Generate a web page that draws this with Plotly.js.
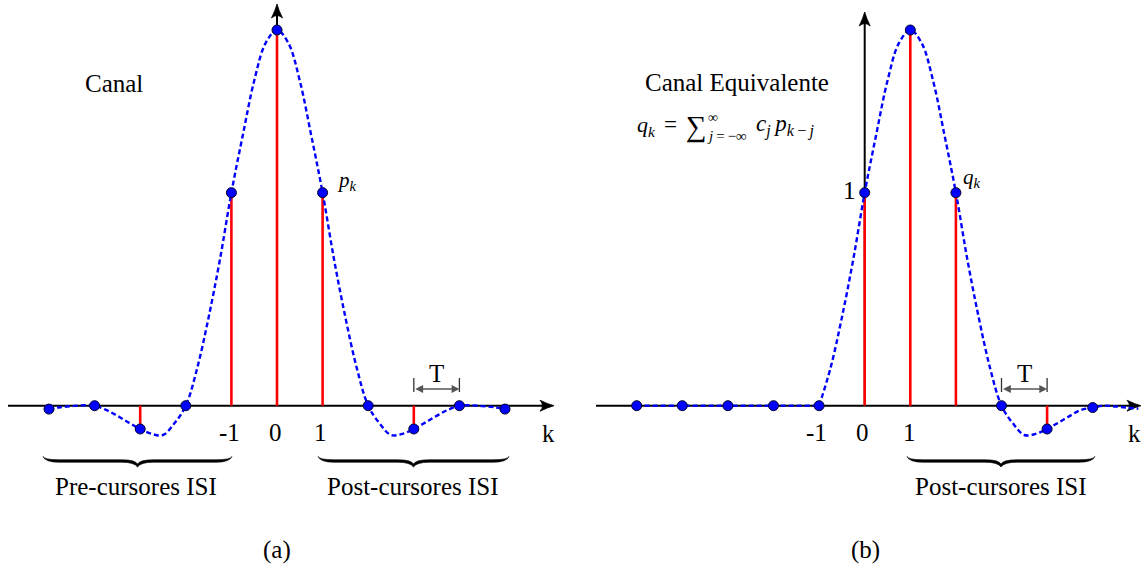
<!DOCTYPE html>
<html>
<head>
<meta charset="utf-8">
<script src="https://cdn.plot.ly/plotly-3.0.1.min.js"></script>
<style>
  html, body { margin: 0; padding: 0; background: #ffffff; }
  #chart { width: 1146px; height: 575px; }
</style>
</head>
<body>
<div id="chart"></div>
<script>
// ---- Sample indices and pulse values ----
// (a) channel p_k
const kA = [-5, -4, -3, -2, -1, 0, 1, 2, 3, 4, 5];
const pA = [-0.009, 0, -0.062, 0, 0.567, 1, 0.567, 0, -0.062, 0, -0.009];
// continuous pulse behind the samples of (a)
const curveAK = [-5, -4.75, -4.5, -4.25, -4, -3.75, -3.5, -3.25, -3, -2.75, -2.5, -2.25, -2,
                 -1.75, -1.5, -1.25, -1, -0.75, -0.5, -0.25, 0,
                 0.25, 0.5, 0.75, 1, 1.25, 1.5, 1.75, 2,
                 2.25, 2.5, 2.75, 3, 3.25, 3.5, 3.75, 4, 4.25, 4.5, 4.75, 5];
const curveAV = [-0.009, -0.004, -0.001, 0.001, 0, -0.011, -0.027, -0.045, -0.062, -0.075, -0.078, -0.047, 0,
                 0.10, 0.235, 0.39, 0.567, 0.72, 0.865, 0.965, 1,
                 0.965, 0.865, 0.72, 0.567, 0.39, 0.235, 0.10, 0,
                 -0.047, -0.078, -0.075, -0.062, -0.045, -0.027, -0.011, 0, 0.001, -0.001, -0.004, -0.009];

// (b) equivalent channel q_k
const kB = [-5, -4, -3, -2, -1, 0, 1, 2, 3, 4, 5];
const qB = [0, 0, 0, 0, 0, 0.567, 1, 0.567, 0, -0.062, -0.005];
const flatBK = [-5, -1];
const flatBV = [0, 0];
const curveBK = [-1, -0.75, -0.5, -0.25, 0, 0.25, 0.5, 0.75, 1, 1.25, 1.5, 1.75, 2,
                 2.25, 2.5, 2.75, 3, 3.25, 3.5, 3.75, 4, 4.25, 4.5, 4.75, 5, 5.25, 5.5, 5.75, 6];
const curveBV = [0, 0.10, 0.235, 0.39, 0.567, 0.72, 0.865, 0.965, 1, 0.965, 0.865, 0.72, 0.567,
                 0.39, 0.235, 0.10, 0, -0.047, -0.078, -0.075, -0.062, -0.045, -0.027, -0.011, -0.005, 0, -0.002, -0.005, -0.008];

// ---- Canvas geometry (pixels) ----
const W = 1146, H = 575;
const X0A = 277, X0B = 864.7;   // pixel column of k = 0 in each panel
const DX = 45.6;                // pixels per sample
const Y0 = 405.7, DY = 375.7;   // baseline row, pixels per unit amplitude

const px = x => x / W;
const py = y => 1 - y / H;

const FONT = '"Liberation Serif", "Times New Roman", "DejaVu Serif", serif';

function stems(ks, vs) {
  const x = [], y = [];
  ks.forEach((k, i) => { x.push(k, k, null); y.push(0, vs[i], null); });
  return { x, y };
}

const sA = stems(kA, pA);
const sB = stems(kB, qB);

const RED = '#ff0000', BLUE = '#0000ff';
const stemLine = { color: RED, width: 2.6 };
const dashLine = { color: BLUE, width: 2.4, dash: '5px,3px', shape: 'spline', smoothing: 1 };
const dotMarker = { size: 10, color: BLUE, line: { color: '#00002a', width: 1 } };

const traces = [
  { x: sA.x, y: sA.y, xaxis: 'x', yaxis: 'y', mode: 'lines', line: stemLine, hoverinfo: 'skip' },
  { x: curveAK, y: curveAV, xaxis: 'x', yaxis: 'y', mode: 'lines', line: dashLine, hoverinfo: 'skip' },
  { x: kA, y: pA, xaxis: 'x', yaxis: 'y', mode: 'markers', marker: dotMarker },
  { x: sB.x, y: sB.y, xaxis: 'x2', yaxis: 'y', mode: 'lines', line: stemLine, hoverinfo: 'skip' },
  { x: flatBK, y: flatBV, xaxis: 'x2', yaxis: 'y', mode: 'lines',
    line: { color: BLUE, width: 2.4, dash: '5px,3px' }, hoverinfo: 'skip' },
  { x: curveBK, y: curveBV, xaxis: 'x2', yaxis: 'y', mode: 'lines', line: dashLine, hoverinfo: 'skip' },
  { x: kB, y: qB, xaxis: 'x2', yaxis: 'y', mode: 'markers', marker: dotMarker }
];

// ---- Decorations: axis lines, arrow heads, braces, period markers ----
function line(x0, y0, x1, y1, color, width) {
  return { type: 'line', xref: 'paper', yref: 'paper', layer: 'below',
           x0: px(x0), y0: py(y0), x1: px(x1), y1: py(y1),
           line: { color: color, width: width } };
}

// LaTeX-style arrow head; dir 'right' or 'up'
function head(tx, ty, dir) {
  const P = (f, s) => dir === 'right' ? [tx + f, ty + s] : [tx + s, ty - f];
  const pt = (f, s) => { const p = P(f, s); return px(p[0]) + ',' + py(p[1]); };
  const d = 'M' + pt(0, 0) +
            ' Q' + pt(-6, -1.6) + ' ' + pt(-14, -5.5) +
            ' Q' + pt(-9, 0) + ' ' + pt(-14, 5.5) +
            ' Q' + pt(-6, 1.6) + ' ' + pt(0, 0) + ' Z';
  return { type: 'path', xref: 'paper', yref: 'paper', layer: 'below', path: d,
           fillcolor: '#000000', line: { color: '#000000', width: 0.8 } };
}

// horizontal under-brace, ends up, point down
function brace(x0, x1, yTop, yMid, yTip) {
  const xc = (x0 + x1) / 2, r = 16, h = 1.25;
  const p = (x, y) => px(x) + ',' + py(y);
  const d = 'M' + p(x0, yTop) +
    ' Q' + p(x0 + 1.5, yMid - h) + ' ' + p(x0 + r, yMid - h) +
    ' L' + p(xc - r, yMid - h) +
    ' Q' + p(xc - 2, yMid - h) + ' ' + p(xc, yTip - 3) +
    ' Q' + p(xc + 2, yMid - h) + ' ' + p(xc + r, yMid - h) +
    ' L' + p(x1 - r, yMid - h) +
    ' Q' + p(x1 - 1.5, yMid - h) + ' ' + p(x1, yTop) +
    ' Q' + p(x1 - 2.5, yMid + h) + ' ' + p(x1 - r, yMid + h) +
    ' L' + p(xc + r, yMid + h) +
    ' Q' + p(xc + 3, yMid + h) + ' ' + p(xc, yTip) +
    ' Q' + p(xc - 3, yMid + h) + ' ' + p(xc - r, yMid + h) +
    ' L' + p(x0 + r, yMid + h) +
    ' Q' + p(x0 + 2.5, yMid + h) + ' ' + p(x0, yTop) + ' Z';
  return { type: 'path', xref: 'paper', yref: 'paper', path: d,
           fillcolor: '#000000', line: { color: '#000000', width: 0.6 } };
}

const AX = '#000000';
const shapes = [
  // panel (a) axes
  line(8, Y0, 546, Y0, AX, 2),
  head(554, Y0, 'right'),
  line(X0A, Y0, X0A, 12, AX, 2),
  head(X0A, 4, 'up'),
  // panel (b) axes
  line(596, Y0, 1133, Y0, AX, 2),
  head(1141, Y0, 'right'),
  line(X0B, Y0, X0B, 20, AX, 2),
  head(X0B, 12, 'up'),
  // braces
  brace(43, 232, 456.5, 461, 467),
  brace(318, 509, 456.5, 461, 467),
  brace(907, 1095, 456.5, 461, 467)
];

// period marker ticks between samples 3 and 4 (data x, amplitude y)
const tLo = (Y0 - 392) / DY, tHi = (Y0 - 378) / DY, tMid = (Y0 - 389) / DY;
['x', 'x2'].forEach(xr => {
  [3, 4].forEach(k => {
    shapes.push({ type: 'line', xref: xr, yref: 'y', x0: k, x1: k, y0: tLo, y1: tHi,
                  line: { color: '#333333', width: 1.3 } });
  });
});

function txt(x, y, text, size, extra) {
  return Object.assign({ xref: 'paper', yref: 'paper', x: px(x), y: py(y), text: text,
    showarrow: false, xanchor: 'center', yanchor: 'middle',
    font: { family: FONT, size: size, color: '#000000' } }, extra || {});
}

const THIN = '\u2009';
const annotations = [
  txt(114, 84, 'Canal', 25),
  txt(736.5, 82, 'Canal Equivalente', 25),
  // tick labels
  txt(229.5, 432.5, '-1', 25), txt(275, 432.5, '0', 25), txt(320.5, 432.5, '1', 25),
  txt(816, 432.5, '-1', 25), txt(862.5, 432.5, '0', 25), txt(909, 432.5, '1', 25),
  txt(548.5, 433.5, 'k', 25), txt(1134, 433.5, 'k', 25),
  txt(849, 191, '1', 25),
  // period labels
  txt(436, 373, 'T', 25), txt(1024, 373, 'T', 25),
  // ISI groups
  txt(136, 486, 'Pre-cursores ISI', 25),
  txt(413, 486, 'Post-cursores ISI', 25),
  txt(1001, 486, 'Post-cursores ISI', 25),
  // sub-figure captions
  txt(277, 550, '(a)', 25), txt(865, 550, '(b)', 25),
  // sample labels
  txt(347, 181, '<i>p</i><sub><i>k</i></sub>', 21),
  txt(972, 178, '<i>q</i><sub><i>k</i></sub>', 21),
  // convolution formula
  txt(635, 126, '<i>q</i><sub><i>k</i></sub>', 22, { xanchor: 'left' }),
  txt(670, 124.5, '=', 23),
  txt(696.5, 126.5, '\u2211', 29),
  txt(707, 126.5, '∞', 14, { xanchor: 'left', yanchor: 'bottom', borderpad: 0 }),
  txt(706, 127, '<i>j</i>' + THIN + '=' + THIN + '−∞', 15, { xanchor: 'left', yanchor: 'top', borderpad: 0 }),
  txt(754, 126, '<i>c</i><sub><i>j</i></sub>' + THIN + '<i>p</i><sub><i>k</i>' + THIN + '−' + THIN + '<i>j</i></sub>', 23, { xanchor: 'left' })
];

// double-headed period arrows
[['x', 'y'], ['x2', 'y']].forEach(([xr, yr]) => {
  annotations.push({ xref: xr, yref: yr, axref: xr, ayref: yr, x: 4, y: tMid, ax: 3, ay: tMid,
    text: '', showarrow: true, arrowside: 'end+start', arrowhead: 2, startarrowhead: 2,
    arrowsize: 1.2, startarrowsize: 1.2, arrowwidth: 1.3, arrowcolor: '#555555',
    standoff: 0, startstandoff: 0 });
});

const layout = {
  width: W, height: H,
  margin: { l: 0, r: 0, t: 0, b: 0, pad: 0 },
  paper_bgcolor: '#ffffff', plot_bgcolor: 'rgba(0,0,0,0)',
  showlegend: false,
  font: { family: FONT },
  xaxis: { domain: [0, 0.5], range: [-X0A / DX, (W / 2 - X0A) / DX], visible: false, fixedrange: true },
  xaxis2: { domain: [0.5, 1], range: [(W / 2 - X0B) / DX, (W - X0B) / DX], visible: false,
            anchor: 'y', fixedrange: true },
  yaxis: { domain: [0, 1], range: [-(H - Y0) / DY, Y0 / DY], visible: false, fixedrange: true },
  shapes: shapes,
  annotations: annotations
};

Plotly.newPlot('chart', traces, layout, { displayModeBar: false, staticPlot: true });
</script>
</body>
</html>
